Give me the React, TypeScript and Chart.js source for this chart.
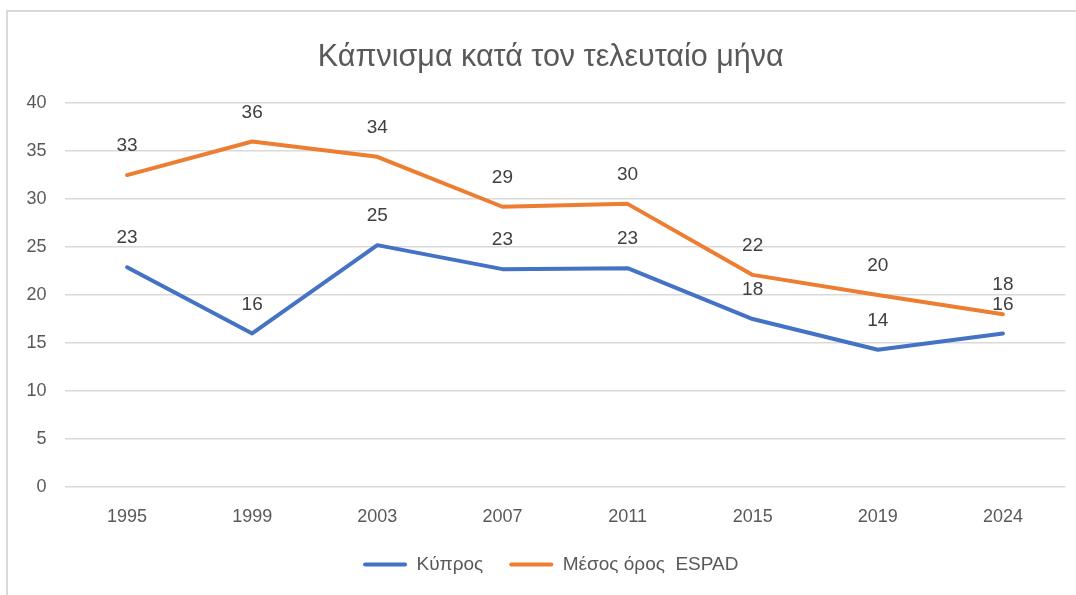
import React, { useEffect, useRef } from "react";
import { Chart, registerables } from "chart.js";

Chart.register(...registerables);

const years = ["1995", "1999", "2003", "2007", "2011", "2015", "2019", "2024"];
const cyprus = [22.9, 16.0, 25.2, 22.7, 22.8, 17.5, 14.3, 16.0];
const espad = [32.5, 36.0, 34.4, 29.2, 29.5, 22.1, 20.0, 18.0];
const cyprusLabels = ["23", "16", "25", "23", "23", "18", "14", "16"];
const espadLabels = ["33", "36", "34", "29", "30", "22", "20", "18"];
const seriesNames = ["Κύπρος", "Μέσος όρος  ESPAD"];
const titleText = "Κάπνισμα κατά τον τελευταίο μήνα";

const FONT = "'Liberation Sans', Arial, sans-serif";

const dataLabelPlugin = {
  id: "dataLabels",
  afterLayout(chart: any) {
    // let the y tick labels extend left of the (narrowed) axis box without clipping
    chart.scales.y.left = 0;
  },
  afterDatasetsDraw(chart: any) {
    const ctx = chart.ctx;
    const labelSets = [cyprusLabels, espadLabels];
    ctx.save();
    ctx.font = `19px ${FONT}`;
    ctx.fillStyle = "#404040";
    ctx.textAlign = "center";
    ctx.textBaseline = "middle";
    chart.data.datasets.forEach((ds: any, i: number) => {
      const meta = chart.getDatasetMeta(i);
      meta.data.forEach((pt: any, j: number) => {
        ctx.fillText(labelSets[i][j], pt.x, pt.y - 29);
      });
    });
    ctx.restore();
  },
};

export default function App() {
  const ref = useRef<HTMLCanvasElement | null>(null);
  useEffect(() => {
    if (!ref.current) return;
    const chart = new Chart(ref.current, {
      type: "line",
      data: {
        labels: years,
        datasets: [
          {
            label: seriesNames[0],
            data: cyprus,
            borderColor: "#4472C4",
            backgroundColor: "#4472C4",
            borderWidth: 4,
            pointRadius: 0,
            borderCapStyle: "round",
            borderJoinStyle: "round",
            tension: 0,
          },
          {
            label: seriesNames[1],
            data: espad,
            borderColor: "#ED7D31",
            backgroundColor: "#ED7D31",
            borderWidth: 4,
            pointRadius: 0,
            borderCapStyle: "round",
            borderJoinStyle: "round",
            tension: 0,
          },
        ],
      },
      options: {
        responsive: false,
        animation: false,
        layout: { padding: { left: 36, right: 10.5, top: 0, bottom: 11 } },
        plugins: {
          title: {
            display: true,
            text: titleText,
            color: "#595959",
            font: { family: FONT, size: 30.5, weight: "normal" },
            padding: { top: 39, bottom: 27.5 },
          },
          legend: {
            position: "bottom",
            labels: {
              color: "#595959",
              font: { family: FONT, size: 19 },
              boxWidth: 44,
              boxHeight: 4,
              padding: 26,
              useBorderRadius: true,
              borderRadius: 2,
              generateLabels: (c: any) =>
                (Chart.defaults.plugins.legend.labels as any)
                  .generateLabels(c)
                  .map((l: any) => ({ ...l, lineWidth: 0 })),
            },
          },
          tooltip: { enabled: false },
        },
        scales: {
          x: {
            offset: true,
            grid: { display: false, drawTicks: false },
            border: { display: false },
            ticks: {
              color: "#595959",
              font: { family: FONT, size: 18 },
              padding: 19,
              maxRotation: 0,
            },
            afterFit: (s: any) => {
              s.height = 42;
            },
          },
          y: {
            min: 0,
            max: 40,
            ticks: {
              stepSize: 5,
              color: "#595959",
              font: { family: FONT, size: 18 },
              padding: 18,
            },
            grid: { color: "#d9d9d9", lineWidth: 1.5, drawTicks: false },
            border: { display: false },
            afterFit: (s: any) => {
              s.width = 28.5;
            },
          },
        },
      },
      plugins: [dataLabelPlugin],
    });
    return () => chart.destroy();
  }, []);

  return (
    <div
      style={{
        position: "fixed",
        left: 0,
        top: 0,
        width: 1076,
        height: 595,
        background: "#fff",
        overflow: "hidden",
      }}
    >
      <div
        style={{
          position: "absolute",
          left: 6,
          top: 10,
          width: 1200,
          height: 700,
          borderLeft: "2px solid #d9d9d9",
          borderTop: "2px solid #d9d9d9",
        }}
      />
      <canvas
        ref={ref}
        width={1076}
        height={595}
        style={{ position: "absolute", left: 0, top: 0, width: 1076, height: 595 }}
      />
    </div>
  );
}
